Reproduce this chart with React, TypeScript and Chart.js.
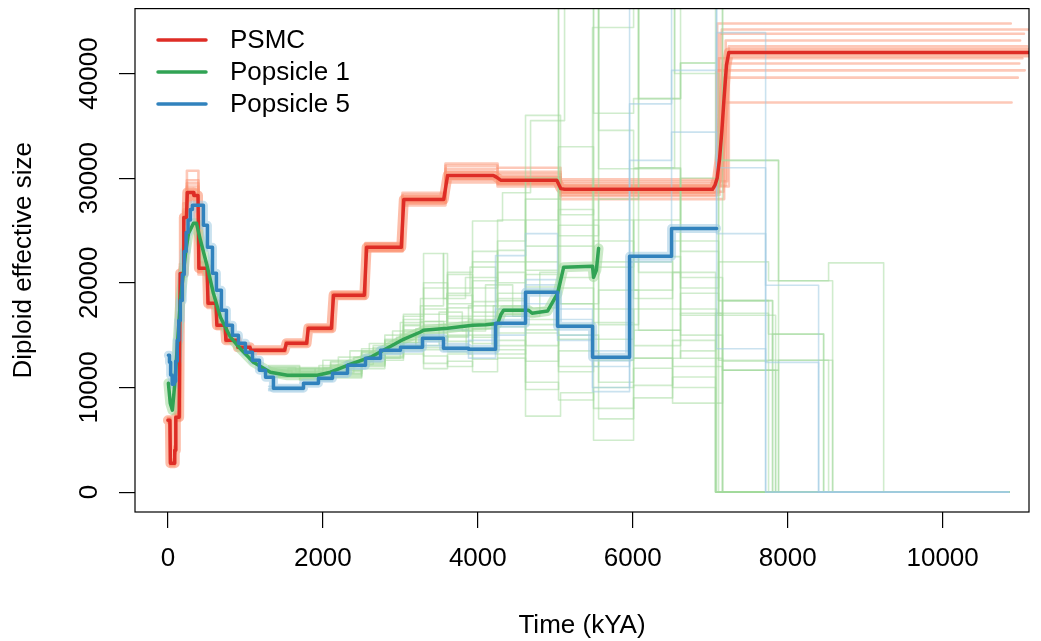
import React, { useEffect, useRef } from 'react';
import { Chart, registerables } from 'chart.js';

Chart.register(...registerables);

type Pt = [number, number];

// ---------- axis ticks ----------
const xTicks = [0, 2000, 4000, 6000, 8000, 10000];
const yTicks = [0, 10000, 20000, 30000, 40000];
const seriesNames = ['PSMC', 'Popsicle 1', 'Popsicle 5'];

// ---------- main estimates (time kYA, diploid Ne) ----------
const psmcMain: Pt[] = [
  [0, 6870], [25, 6870], [32, 2770], [80, 2770], [88, 4000], [95, 4000], [102, 7160], [145, 7160],
  [158, 20900], [195, 20900], [205, 26250], [240, 26250], [250, 28640], [325, 28640], [335, 28350],
  [388, 28350], [400, 21390], [505, 21390], [518, 18040], [620, 18040], [632, 15940], [737, 15940],
  [749, 14510], [890, 14510], [903, 13840], [1058, 13840], [1072, 13560], [1505, 13560], [1530, 14220],
  [1790, 14220], [1812, 15660], [2110, 15660], [2138, 18810], [2535, 18810], [2565, 23390], [3012, 23390],
  [3045, 27970], [3560, 27970], [3610, 30260], [4200, 30260], [4240, 30100], [4300, 29790], [5020, 29790],
  [5070, 29000], [5120, 28930], [7030, 28930], [7060, 29300], [7090, 30000], [7120, 31800], [7150, 34500],
  [7180, 37800], [7210, 40800], [7240, 42000], [11111, 42000],
];

const popsicle1Main: Pt[] = [
  [6, 10400], [30, 8500], [58, 7830], [90, 10500], [161, 18300], [230, 23000], [265, 24700],
  [330, 25700], [368, 25700], [420, 24060], [510, 21480], [587, 19000], [678, 16710],
  [807, 14800], [936, 13700], [1104, 12410], [1323, 11460], [1543, 11170], [1930, 11170],
  [2098, 11460], [2318, 12120], [2615, 12890], [3041, 14600], [3260, 15300], [3299, 15470],
  [3609, 15660], [3932, 15940], [4100, 16000], [4256, 16100], [4300, 17000], [4333, 17380],
  [4656, 17380], [4700, 17090], [4900, 17300], [5030, 19000], [5108, 21480], [5481, 21580],
  [5494, 20530], [5530, 21200], [5559, 23290],
];

const popsicle5Main: Pt[] = [
  [6, 13080], [20, 12400], [35, 11200], [55, 10300], [80, 10600], [100, 12500], [120, 14500],
  [140, 16400], [160, 18300], [185, 20800], [210, 23000], [235, 24800], [260, 26000],
  [290, 27000], [316, 27400], [458, 25490], [510, 23390], [575, 20910], [626, 19280],
  [690, 17380], [755, 15940], [833, 14990], [910, 14220], [1000, 13370], [1091, 12600],
  [1181, 11650], [1260, 10980], [1362, 9930], [1750, 10410], [1943, 10880], [2124, 11360],
  [2318, 12120], [2550, 12790], [2744, 13560], [3002, 13840], [3286, 14700], [3557, 13750],
  [3880, 13650], [4229, 16130], [4616, 19090], [5029, 15850], [5481, 12890], [5959, 22530],
  [6501, 25200], [7082, 25200],
];

// ---------- PSMC bootstrap replicates ----------
const psmcBootTimes = [0, 30, 85, 100, 155, 200, 245, 394, 512, 626, 743, 897, 1065, 1517, 1801, 2124, 2550, 3028, 3583, 4255, 5068];
const psmcBoot1 = [7000, 3000, 4300, 7400, 21500, 27000, 30700, 22000, 18600, 16300, 14700, 14000, 13700, 14400, 15900, 19100, 23800, 28600, 31200, 30600, 29900];
const psmcBoot2 = [6700, 2600, 3800, 6900, 20300, 25600, 27800, 20800, 17600, 15600, 14300, 13650, 13400, 14000, 15400, 18500, 23000, 27400, 29600, 29200, 28000];
const psmcBoot3 = [7100, 3100, 4400, 7600, 21800, 27600, 29800, 21900, 18400, 16200, 14650, 13950, 13650, 14350, 15800, 19000, 23700, 28400, 30900, 30400, 29500];
const psmcBoot4 = [6600, 2500, 3700, 6800, 20000, 25800, 28000, 21000, 17800, 15700, 14400, 13750, 13450, 14100, 15500, 18600, 23100, 27600, 29900, 29400, 28400];
const psmcBoot5 = [6900, 2900, 4200, 7300, 21200, 26800, 29500, 21700, 18300, 16100, 14600, 13900, 13600, 14300, 15700, 18950, 23550, 28200, 30600, 30100, 29300];
const psmcBoot6 = [6800, 2700, 3900, 7000, 20600, 25900, 28200, 21100, 17900, 15800, 14450, 13800, 13500, 14150, 15550, 18700, 23200, 27700, 29900, 29500, 28600];
const psmcBoot7 = [7050, 2850, 4100, 7250, 21300, 26700, 29200, 21500, 18200, 16000, 14550, 13850, 13550, 14250, 15700, 18900, 23500, 28100, 31400, 31000, 29700];
const psmcBoot8 = [6750, 2650, 3850, 7050, 20500, 26000, 28400, 21200, 17900, 15850, 14450, 13800, 13500, 14150, 15600, 18700, 23300, 27800, 30100, 29600, 28300];
const psmcBoot9 = [6950, 2800, 4050, 7200, 21000, 26400, 28900, 21400, 18100, 15950, 14500, 13820, 13530, 14200, 15650, 18800, 23400, 28000, 30300, 29800, 28700];
const psmcBoot10 = [6850, 2750, 3950, 7150, 20800, 26200, 28600, 21350, 18000, 15900, 14520, 13840, 13560, 14220, 15660, 18810, 23390, 27970, 30260, 29790, 29200];
const psmcBoots = [psmcBoot1, psmcBoot2, psmcBoot3, psmcBoot4, psmcBoot5, psmcBoot6, psmcBoot7, psmcBoot8, psmcBoot9, psmcBoot10];
const psmcBootJumpT = [7090, 7180, 7150, 7120, 7200, 7110, 7220, 7080, 7170, 7240];
const psmcBootFinal = [44780, 37230, 44200, 43800, 43150, 41450, 40950, 40300, 39600, 42600];
const psmcBootEndT = [10880, 10890, 11100, 11050, 11000, 11030, 10990, 11060, 10970, 11090];

// ---------- Popsicle 1 bootstrap replicates ----------
const pop1Boot1: Pt[] = [[1300, 11900], [1700, 11600], [2100, 12000], [2500, 13300], [2800, 14400], [3040, 15900], [3260, 17800], [3557, 22800], [3609, 16600], [3932, 18200], [4255, 21000], [4616, 19600], [5042, 60000], [5494, 36200], [6011, 37600], [6617, 41000], [7069, 31700], [7882, 20200], [8580, 0], [10852, 0]];
const pop1Boot2: Pt[] = [[1300, 11200], [1700, 10900], [2100, 11200], [2500, 12200], [2800, 13200], [3040, 14300], [3300, 13800], [3609, 15000], [3932, 14200], [4255, 17000], [4616, 12500], [5042, 15000], [5559, 10500], [6011, 12800], [6514, 8500], [7159, 11650], [7882, 12600], [8464, 0], [10852, 0]];
const pop1Boot3: Pt[] = [[1300, 12000], [1700, 11800], [2100, 12400], [2500, 13000], [2800, 14000], [3040, 16500], [3300, 19500], [3609, 21000], [3932, 25900], [4319, 28600], [4681, 35500], [5120, 60000], [5559, 30900], [6075, 60000], [6617, 16900], [7159, 18300], [7805, 0], [10852, 0]];
const pop1Boot4: Pt[] = [[1300, 11000], [1700, 10800], [2100, 11000], [2500, 12000], [2800, 12900], [3040, 13600], [3300, 12300], [3609, 13200], [3932, 12700], [4255, 13600], [4616, 7260], [5068, 9500], [5494, 4960], [6011, 10200], [6514, 14500], [7069, 0], [10852, 0]];
const pop1Boot5: Pt[] = [[1300, 11600], [1700, 11300], [2100, 11700], [2500, 12900], [2800, 13800], [3040, 15000], [3300, 16300], [3609, 17600], [3932, 19500], [4255, 24000], [4616, 36000], [5068, 21500], [5481, 44400], [6011, 60000], [6540, 40000], [7108, 18300], [7753, 15100], [8464, 0], [10852, 0]];
const pop1Boot6: Pt[] = [[1300, 11400], [1700, 11100], [2100, 11300], [2500, 12400], [2800, 13500], [3040, 14600], [3300, 14900], [3609, 14400], [3932, 16200], [4255, 15200], [4616, 16500], [5042, 12000], [5559, 19300], [6075, 15470], [6617, 17090], [7159, 11650], [7844, 0], [10852, 0]];
const pop1Boot7: Pt[] = [[1300, 11700], [1700, 11400], [2100, 11800], [2500, 13100], [2800, 14200], [3040, 17000], [3300, 22800], [3557, 18500], [3841, 20500], [4255, 17500], [4616, 26000], [5042, 60000], [5559, 34560], [6011, 31000], [6540, 60000], [7159, 31700], [7882, 0], [10852, 0]];
const pop1Boot8: Pt[] = [[1300, 11300], [1700, 11000], [2100, 11500], [2500, 12300], [2800, 12800], [3040, 14000], [3300, 13000], [3609, 12000], [3932, 13500], [4255, 14500], [4616, 10500], [5042, 8800], [5494, 10000], [6011, 11840], [6514, 10000], [7069, 0], [10852, 0]];
const pop1Boot9: Pt[] = [[1300, 11800], [1700, 11700], [2100, 12200], [2500, 13500], [2800, 14600], [3040, 16000], [3260, 15600], [3609, 18800], [3932, 17200], [4255, 19000], [4616, 22000], [5042, 18000], [5559, 60000], [6075, 21000], [6617, 19500], [7108, 22000], [7753, 20200], [8528, 21900], [9239, 0], [10852, 0]];
const pop1Boot10: Pt[] = [[1300, 11100], [1700, 10950], [2100, 11100], [2500, 12100], [2800, 13000], [3040, 13900], [3300, 15200], [3609, 13400], [3932, 15000], [4255, 16800], [4616, 14000], [5042, 23500], [5494, 17500], [6011, 12790], [6617, 13500], [7069, 17090], [7753, 12600], [8528, 0], [10852, 0]];
const pop1Boot11: Pt[] = [[1300, 12100], [1700, 11900], [2100, 12500], [2500, 13700], [2800, 15000], [3040, 16800], [3300, 20000], [3609, 18000], [3932, 22000], [4255, 20000], [4616, 28000], [5068, 26500], [5494, 60000], [6075, 37600], [6617, 41000], [7069, 60000], [7159, 0], [10852, 0]];
const pop1Boot12: Pt[] = [[1300, 11500], [1700, 11250], [2100, 11600], [2500, 12700], [2800, 13600], [3040, 14900], [3300, 16000], [3609, 15400], [3932, 15600], [4255, 18500], [4616, 17600], [5042, 20500], [5494, 26000], [6011, 18500], [6514, 24000], [7108, 12600], [7805, 15100], [8464, 12600], [8580, 0], [10852, 0]];
const pop1Boot13: Pt[] = [[1300, 11000], [1700, 10700], [2100, 10900], [2500, 11800], [2800, 12600], [3040, 13200], [3300, 11800], [3609, 12500], [3932, 11500], [4255, 12800], [4616, 9800], [5042, 13500], [5559, 7000], [6011, 9000], [6514, 11000], [7069, 0], [10852, 0]];
const pop1Boot14: Pt[] = [[1300, 11650], [1700, 11350], [2100, 11650], [2500, 12800], [2800, 13900], [3040, 15300], [3300, 17000], [3609, 19500], [3932, 23000], [4255, 22000], [4616, 30000], [5042, 24500], [5559, 28000], [6075, 31000], [6617, 23000], [7108, 18300], [7805, 0], [10852, 0]];
const pop1Boot15: Pt[] = [[1300, 11350], [1700, 11050], [2100, 11350], [2500, 12500], [2800, 13300], [3040, 14500], [3300, 14500], [3609, 16800], [3932, 14800], [4255, 15800], [4616, 19300], [5042, 16000], [5494, 12600], [6011, 15470], [6617, 12790], [7159, 11650], [7882, 0], [10852, 0]];
const pop1Boot16: Pt[] = [[1300, 11750], [1700, 11500], [2100, 12100], [2500, 13400], [2800, 14500], [3040, 15500], [3260, 18500], [3609, 20800], [3932, 16800], [4255, 26000], [4616, 23500], [5042, 33000], [5494, 21500], [6011, 30900], [6617, 20500], [7159, 12500], [7753, 0], [10852, 0]];
const pop1Boot17: Pt[] = [[1300, 11200], [1550, 11800], [1900, 11300], [2200, 12900], [2600, 14200], [2900, 15400], [3200, 14000], [3500, 17200], [3800, 15400], [4100, 19800], [4450, 16800], [4800, 21000], [5042, 14600], [5494, 24000], [6011, 19300], [6514, 21000], [7069, 0], [10852, 0]];
const pop1Boot18: Pt[] = [[1300, 11600], [1600, 11000], [1950, 12100], [2300, 12500], [2650, 13800], [2950, 14800], [3260, 16300], [3560, 14900], [3880, 17800], [4229, 14000], [4616, 20800], [5068, 18000], [5494, 8000], [6011, 17500], [6514, 12000], [7159, 0], [10852, 0]];
const pop1Boot19: Pt[] = [[1300, 11900], [1650, 11500], [2000, 12600], [2350, 13500], [2700, 12800], [3000, 16200], [3300, 15800], [3600, 19000], [3900, 21500], [4229, 18300], [4616, 15500], [5042, 27000], [5494, 22000], [6011, 26000], [6617, 30000], [7108, 16900], [7844, 0], [10852, 0]];
const pop1Boot20: Pt[] = [[1300, 11050], [1600, 11300], [1900, 11800], [2250, 12000], [2600, 13300], [2900, 13900], [3200, 15600], [3500, 16000], [3850, 13800], [4200, 17800], [4616, 16000], [5042, 19500], [5494, 14600], [6011, 22000], [6514, 17500], [7082, 0], [10852, 0]];
const pop1Boot21: Pt[] = [[1300, 11450], [1700, 11800], [2050, 11400], [2400, 12900], [2700, 13500], [3000, 14300], [3300, 17500], [3600, 16200], [3932, 20200], [4255, 23100], [4616, 21200], [5042, 25500], [5559, 16000], [6075, 22500], [6617, 15000], [7159, 0], [10852, 0]];
const pop1Boot22: Pt[] = [[1300, 11550], [1600, 11200], [2000, 11900], [2300, 12200], [2650, 14000], [3000, 15100], [3260, 13600], [3557, 14800], [3880, 16500], [4229, 13200], [4616, 15200], [5042, 11500], [5494, 16200], [6011, 14000], [6617, 19000], [7108, 0], [10852, 0]];
const pop1Boots = [pop1Boot1, pop1Boot2, pop1Boot3, pop1Boot4, pop1Boot5, pop1Boot6, pop1Boot7, pop1Boot8, pop1Boot9, pop1Boot10, pop1Boot11, pop1Boot12, pop1Boot13, pop1Boot14, pop1Boot15, pop1Boot16, pop1Boot17, pop1Boot18, pop1Boot19, pop1Boot20, pop1Boot21, pop1Boot22];

// ---------- Popsicle 5 bootstrap replicates ----------
const pop5Boot1: Pt[] = [[1300, 9800], [1750, 10300], [1943, 10700], [2124, 11200], [2318, 12000], [2550, 12600], [2744, 13400], [3002, 13600], [3286, 14400], [3557, 15500], [3880, 12800], [4229, 22600], [4616, 24700], [5029, 17500], [5481, 10000], [5959, 37100], [6501, 40300], [7082, 43900], [7715, 19760], [8399, 0], [10852, 0]];
const pop5Boot2: Pt[] = [[1300, 10100], [1750, 10500], [1943, 11000], [2124, 11500], [2318, 12300], [2550, 12900], [2744, 13700], [3002, 14100], [3286, 15000], [3557, 13500], [3880, 14500], [4229, 16800], [4616, 20300], [5029, 15000], [5481, 12000], [5959, 31700], [6501, 34400], [7082, 31000], [7715, 12400], [8399, 0], [10852, 0]];
const pop5Boot3: Pt[] = [[1300, 9700], [1750, 10200], [1943, 10600], [2124, 11000], [2318, 11800], [2550, 12500], [2744, 13200], [3002, 13400], [3286, 14000], [3557, 14200], [3880, 13200], [4229, 15000], [4616, 18000], [5029, 16500], [5481, 9600], [5959, 22000], [6501, 60000], [7082, 24700], [7715, 0], [10852, 0]];
const pop5Boot4: Pt[] = [[1300, 9900], [1750, 10400], [1943, 10900], [2124, 11300], [2318, 12200], [2550, 12800], [2744, 13600], [3002, 13900], [3286, 14700], [3557, 13900], [3880, 13800], [4229, 17500], [4616, 19800], [5029, 14500], [5481, 13500], [5959, 60000], [7082, 13700], [7715, 0], [10852, 0]];
const pop5Boots = [pop5Boot1, pop5Boot2, pop5Boot3, pop5Boot4];

const FONT = '"Liberation Sans", Arial, Helvetica, sans-serif';
const RED = '#DE2D26';
const GREEN = '#31A354';
const BLUE = '#3182BD';

const toXY = (pts: Pt[]) => pts.map(([x, y]) => ({ x, y }));

export default function App() {
  const canvasRef = useRef<HTMLCanvasElement | null>(null);

  useEffect(() => {
    const canvas = canvasRef.current;
    if (!canvas) return;

    const datasets: any[] = [];
    const base = { pointRadius: 0, fill: false, tension: 0, clip: 0, borderCapStyle: 'round', borderJoinStyle: 'round' };

    datasets.push({ ...base, label: seriesNames[2], data: toXY(popsicle5Main), borderColor: BLUE, borderWidth: 3.5, stepped: true, order: 0 });
    datasets.push({ ...base, label: seriesNames[1], data: toXY(popsicle1Main), borderColor: GREEN, borderWidth: 3.5, stepped: false, order: 1 });
    datasets.push({ ...base, label: seriesNames[0], data: toXY(psmcMain), borderColor: RED, borderWidth: 3.5, stepped: false, order: 2 });

    datasets.push({ ...base, label: 'p5halo', data: toXY(popsicle5Main), borderColor: 'rgba(158,202,225,0.55)', borderWidth: 9, stepped: true, order: 3 });
    datasets.push({ ...base, label: 'p1halo', data: toXY(popsicle1Main), borderColor: 'rgba(161,217,155,0.55)', borderWidth: 10, stepped: false, order: 4 });

    pop5Boots.forEach((b, i) => {
      datasets.push({ ...base, label: 'p5boot' + i, data: toXY(b), borderColor: 'rgba(158,202,225,0.55)', borderWidth: 1.6, stepped: true, order: 5 });
    });
    pop1Boots.forEach((b, i) => {
      datasets.push({ ...base, label: 'p1boot' + i, data: toXY(b), borderColor: 'rgba(161,217,155,0.5)', borderWidth: 1.6, stepped: true, order: 6 });
    });

    datasets.push({ ...base, label: 'psmchalo', data: toXY(psmcMain), borderColor: 'rgba(252,146,114,0.6)', borderWidth: 10, stepped: false, order: 7 });

    psmcBoots.forEach((vals, i) => {
      const pts: Pt[] = psmcBootTimes.map((t, k) => [t, vals[k]] as Pt);
      pts.push([psmcBootJumpT[i], psmcBootFinal[i]]);
      pts.push([psmcBootEndT[i], psmcBootFinal[i]]);
      datasets.push({ ...base, label: 'psmcboot' + i, data: toXY(pts), borderColor: 'rgba(252,146,114,0.5)', borderWidth: 2.6, stepped: true, order: 8 });
    });

    const legendPlugin = {
      id: 'rLegend',
      afterDraw(chart: any) {
        const ctx = chart.ctx as CanvasRenderingContext2D;
        const colors = [RED, GREEN, BLUE];
        const ys = [40, 72, 104];
        ctx.save();
        ctx.font = `26px ${FONT}`;
        ctx.textBaseline = 'middle';
        ctx.textAlign = 'left';
        seriesNames.forEach((name, i) => {
          ctx.strokeStyle = colors[i];
          ctx.lineWidth = 3.5;
          ctx.lineCap = 'round';
          ctx.beginPath();
          ctx.moveTo(158, ys[i]);
          ctx.lineTo(206, ys[i]);
          ctx.stroke();
          ctx.fillStyle = '#000';
          ctx.fillText(name, 230, ys[i] + 1);
        });
        ctx.restore();
      },
    };

    const boxPlugin = {
      id: 'rBox',
      afterDraw(chart: any) {
        const { ctx, chartArea } = chart;
        ctx.save();
        ctx.strokeStyle = '#000';
        ctx.lineWidth = 1.2;
        ctx.strokeRect(chartArea.left, chartArea.top, chartArea.right - chartArea.left, chartArea.bottom - chartArea.top);
        ctx.restore();
      },
    };

    const chart = new Chart(canvas, {
      type: 'line',
      data: { datasets },
      options: {
        responsive: false,
        animation: false,
        events: [],
        layout: { padding: { left: 0, top: 8, right: 12, bottom: 0 } },
        plugins: { legend: { display: false }, tooltip: { enabled: false }, title: { display: false } },
        scales: {
          x: {
            type: 'linear',
            min: -425,
            max: 11115,
            afterFit: (s: any) => { s.height = 129; },
            afterBuildTicks: (s: any) => { s.ticks = xTicks.map((v) => ({ value: v })); },
            ticks: {
              autoSkip: false,
              maxRotation: 0,
              minRotation: 0,
              padding: 15,
              color: '#000',
              font: { family: FONT, size: 26, lineHeight: 1.2 },
              callback: (v: any) => String(v),
            },
            grid: { drawOnChartArea: false, drawTicks: true, tickLength: 16, tickColor: '#000', color: '#000', lineWidth: 1.2 },
            border: { display: false },
            title: { display: true, text: 'Time (kYA)', color: '#000', font: { family: FONT, size: 26, lineHeight: 1.2 }, padding: { top: 0, bottom: 0 } },
          },
          y: {
            type: 'linear',
            min: -1900,
            max: 46200,
            afterFit: (s: any) => { s.width = 135; },
            afterBuildTicks: (s: any) => { s.ticks = yTicks.map((v) => ({ value: v })); },
            ticks: {
              autoSkip: false,
              minRotation: 90,
              maxRotation: 90,
              crossAlign: 'center',
              padding: -7,
              color: '#000',
              font: { family: FONT, size: 26, lineHeight: 1.2 },
              callback: (v: any) => String(v),
            },
            grid: { drawOnChartArea: false, drawTicks: true, tickLength: 16, tickColor: '#000', color: '#000', lineWidth: 1.2 },
            border: { display: false },
            title: { display: true, text: 'Diploid effective size', color: '#000', font: { family: FONT, size: 26, lineHeight: 1.2 }, padding: { top: 8, bottom: 0 } },
          },
        },
      } as any,
      plugins: [legendPlugin, boxPlugin],
    });

    return () => chart.destroy();
  }, []);

  return (
    <div style={{ position: 'fixed', left: 0, top: 0, width: 1041, height: 641, background: '#fff' }}>
      <canvas ref={canvasRef} width={1041} height={641} style={{ display: 'block', width: 1041, height: 641 }} />
    </div>
  );
}
